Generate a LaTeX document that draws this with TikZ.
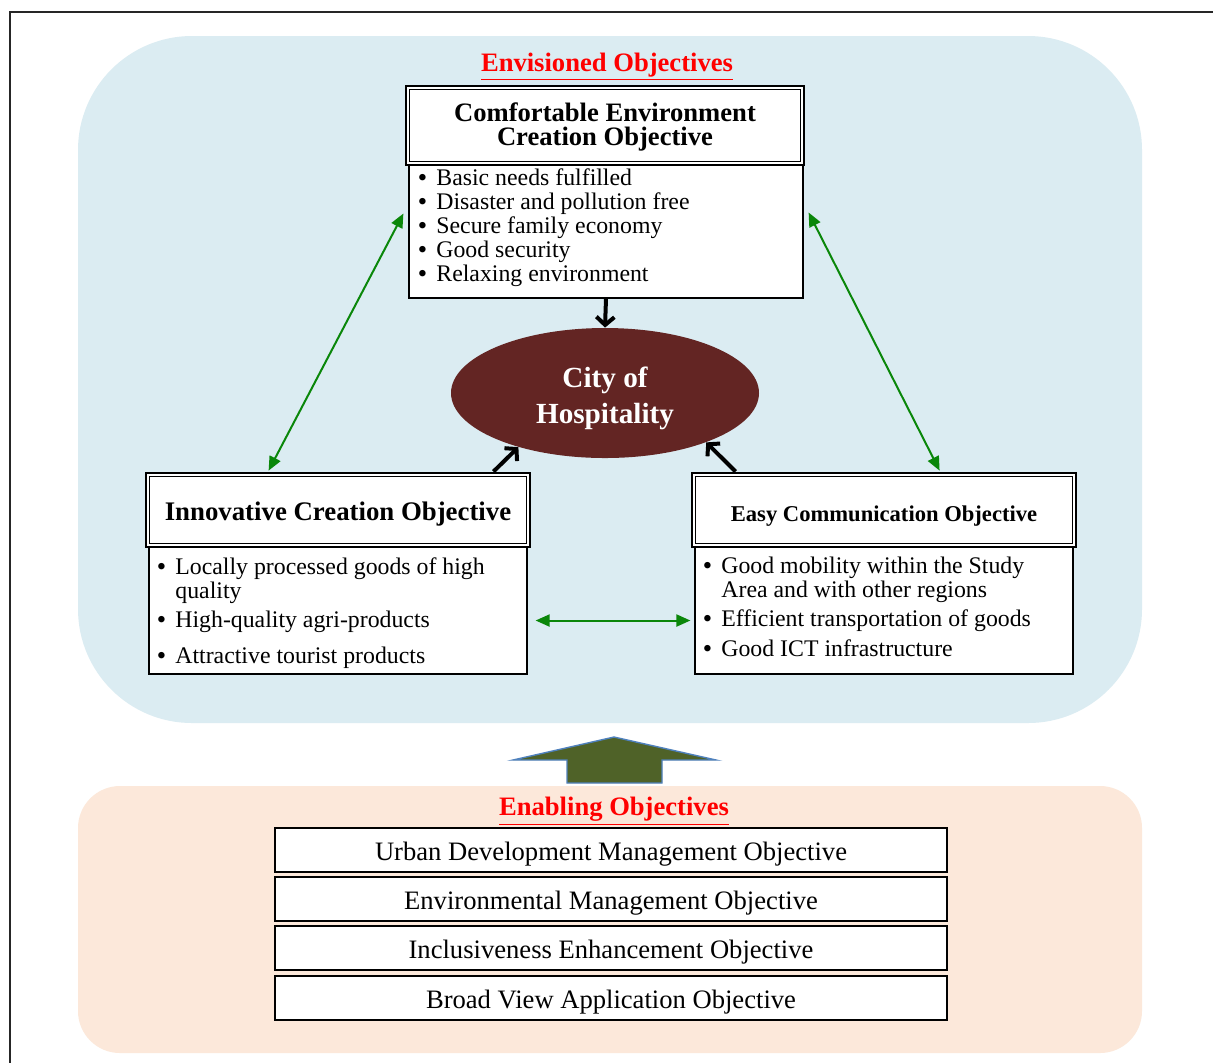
\documentclass[tikz,border=0pt]{standalone}
\usepackage{fontspec}
\setmainfont{Liberation Serif}
\usetikzlibrary{arrows.meta,shapes.geometric,fit,calc}
\definecolor{skyfill}{HTML}{DBECF2}
\definecolor{peachfill}{HTML}{FCE8DA}
\definecolor{maroon}{HTML}{632523}
\definecolor{olive}{HTML}{4F6228}
\definecolor{steel}{HTML}{4F81BD}
\definecolor{linkgreen}{HTML}{0A870A}
\newcommand{\bul}{\makebox[9pt][l]{\textbf{\textbullet}}}
\newcommand{\cont}{\hspace*{9pt}}
\begin{document}
\begin{tikzpicture}[x=0.5pt,y=-0.5pt,
  panel/.style={draw=black, line width=0.6pt, fill=white, inner sep=0pt},
  hdr/.style={draw=black, line width=1.4pt, fill=white, inner sep=0pt},
  hdrin/.style={draw=black, line width=0.8pt},
  list/.style={anchor=north west, inner sep=0pt, align=left, font=\fontsize{11.9}{12}\selectfont},
  title/.style={font=\fontsize{13.3}{14}\selectfont\bfseries, text=red},
  blk/.style={line width=2pt, -{Straight Barb[length=4pt,width=9pt,line width=2pt]}},
  grn/.style={line width=1pt, linkgreen, {Triangle[length=7pt,width=6pt]}-{Triangle[length=7pt,width=6pt]}},
  enab/.style={panel},
  enabtxt/.style={font=\fontsize{13.3}{14}\selectfont}]
\useasboundingbox (0,0) rectangle (1213,1062);
\clip (0,0) rectangle (1213,1062);
\fill[white] (0,0) rectangle (1213,1062);
% page frame
\draw[line width=1pt, black!85] (10,12) rectangle (1240,1090);

% background regions
\fill[skyfill, rounded corners=57pt] (78,36) rectangle (1142,723);
\fill[peachfill, rounded corners=21pt] (78,786) rectangle (1142,1053);

% envisioned objectives
\node[title] (envT) at (607,67) {\underline{Envisioned Objectives}};

% comfortable environment creation objective
\node[hdr, fit={(406,86) (804,165)}] (tH) {};
\draw[hdrin] ($(tH.north west)+(5,5)$) rectangle ($(tH.south east)+(-5,-5)$);
\node[align=center, font=\fontsize{13.3}{12.4}\selectfont\bfseries] (tHt) at (605,127) {Comfortable Environment\\Creation Objective};
\node[panel, fit={(409,165) (803,298)}] (tL) {};
\node[list] (tItems) at (418,168) {\bul Basic needs fulfilled\\
  \bul Disaster and pollution free\\
  \bul Secure family economy\\
  \bul Good security\\
  \bul Relaxing environment};

% city of hospitality
\node[ellipse, fill=maroon, minimum width=154pt, minimum height=65pt, inner sep=0pt] (city) at (605,393) {};
\node[align=center, text=white, font=\fontsize{14.6}{18}\selectfont\bfseries] (cityT) at (605,398)
      {City of\\Hospitality};

% innovative creation objective
\node[hdr, fit={(146,473) (530,547)}] (iH) {};
\draw[hdrin] ($(iH.north west)+(5,5)$) rectangle ($(iH.south east)+(-5,-5)$);
\node[font=\fontsize{13.4}{14}\selectfont\bfseries] (iHt) at (338,514) {Innovative Creation Objective};
\node[panel, fit={(149,547) (527,674)}] (iL) {};
\node[list] (iItems) at (157,557) {\bul Locally processed goods of high\\
  \cont quality\\[2.5pt]
  \bul High-quality agri-products\\[6pt]
  \bul Attractive tourist products};

% easy communication objective
\node[hdr, fit={(692,473) (1076,547)}] (eH) {};
\draw[hdrin] ($(eH.north west)+(5,5)$) rectangle ($(eH.south east)+(-5,-5)$);
\node[font=\fontsize{11.3}{12}\selectfont\bfseries] (eHt) at (884,516) {Easy Communication Objective};
\node[panel, fit={(695,547) (1073,674)}] (eL) {};
\node[list] (eItems) at (703,557) {\bul Good mobility within the Study\\
  \cont Area and with other regions\\[2.5pt]
  \bul Efficient transportation of goods\\[3pt]
  \bul Good ICT infrastructure};

% links between the objectives
\draw[blk] (tL.south) -- (city.north);
\draw[blk] ($(iH.north east)+(-38,0)$) -- (city.212);
\draw[blk] ($(eH.north west)+(45,0)$) -- (city.-26);
\draw[grn] ($(tL.west)+(-5,-18)$) -- ($(iH.north west)+(124,-1)$);
\draw[grn] ($(tL.east)+(5,-19)$) -- ($(eH.north west)+(249,-1)$);
\draw[grn] ($(iL.east)+(8,10)$) -- ($(eL.west)+(-4,10)$);

% upward block arrow
\draw[fill=olive, draw=steel, line width=0.7pt, line join=miter]
  (614,737) -- (716,760) -- (662,760) -- (662,783) -- (567,783) -- (567,760) -- (513,760) -- cycle;

% enabling objectives
\node[title] (enT) at (614,811) {\underline{Enabling Objectives}};
\node[enab, fit={(275,828) (947,872)}] (b1) {};
\node[enabtxt] at ($(b1)+(0,4)$) {Urban Development Management Objective};
\node[enab, fit={(275,877) (947,921)}] (b2) {};
\node[enabtxt] at ($(b2)+(0,4)$) {Environmental Management Objective};
\node[enab, fit={(275,926) (947,970)}] (b3) {};
\node[enabtxt] at ($(b3)+(0,4)$) {Inclusiveness Enhancement Objective};
\node[enab, fit={(275,976) (947,1020)}] (b4) {};
\node[enabtxt] at ($(b4)+(0,4)$) {Broad View Application Objective};
\end{tikzpicture}
\end{document}
